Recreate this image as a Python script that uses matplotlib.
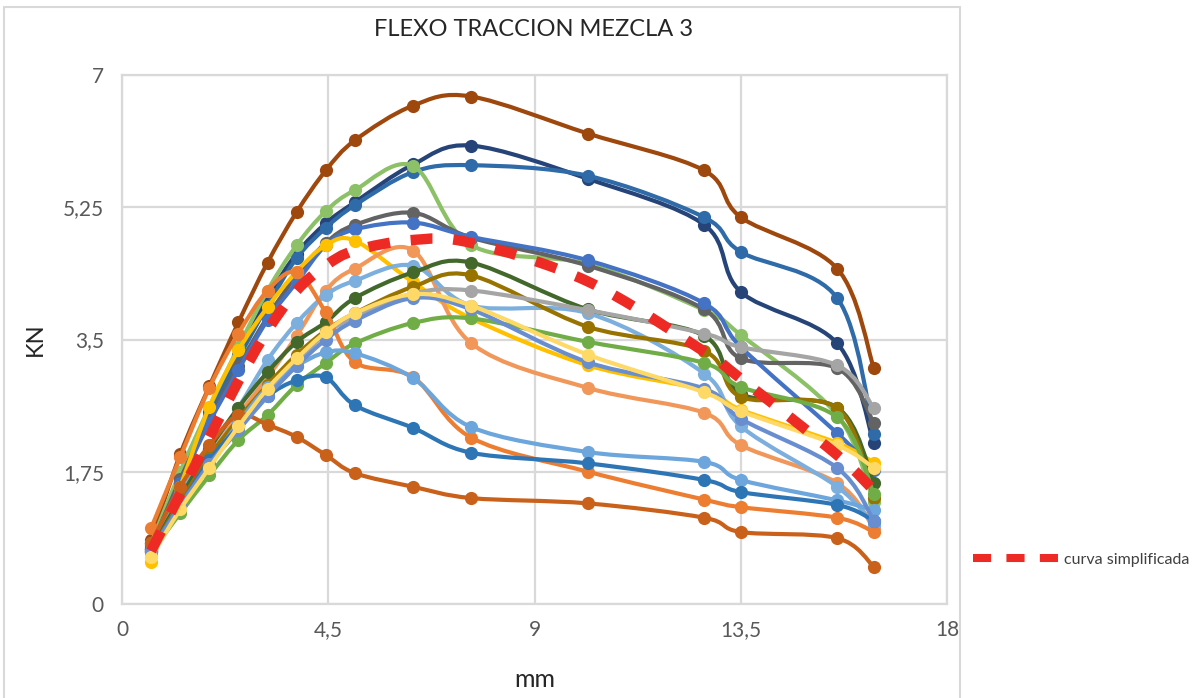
import matplotlib.pyplot as plt
from matplotlib.path import Path
from matplotlib.patches import PathPatch, Rectangle
from matplotlib.lines import Line2D
import numpy as np

plt.rcParams['font.family'] = ['Lato', 'DejaVu Sans']

# deflection readings (mm)
mm = [0.635, 1.27, 1.905, 2.54, 3.175, 3.81, 4.445, 5.08, 6.35, 7.62, 10.16, 12.7, 13.5, 15.6, 16.4]

# load per specimen (kN)
brown = [0.85, 1.98, 2.88, 3.73, 4.52, 5.19, 5.74, 6.14, 6.60, 6.72, 6.23, 5.74, 5.12, 4.44, 3.12]
navy = [0.80, 1.70, 2.55, 3.30, 4.05, 4.64, 5.04, 5.32, 5.82, 6.07, 5.63, 5.02, 4.13, 3.45, 2.13]
steel = [0.78, 1.68, 2.50, 3.25, 3.95, 4.58, 4.98, 5.28, 5.72, 5.81, 5.67, 5.12, 4.66, 4.05, 2.25]
lime = [0.80, 1.75, 2.60, 3.40, 4.15, 4.75, 5.20, 5.48, 5.80, 4.75, 4.50, 3.89, 3.56, 2.50, 1.35]
slate = [0.75, 1.65, 2.45, 3.15, 3.80, 4.35, 4.78, 5.02, 5.18, 4.85, 4.48, 3.90, 3.25, 3.12, 2.39]
blue = [0.72, 1.60, 2.40, 3.10, 3.76, 4.26, 4.75, 4.96, 5.05, 4.86, 4.55, 3.98, 3.40, 2.26, 1.77]
gold = [0.55, 1.55, 2.61, 3.36, 3.93, 4.40, 4.75, 4.81, 4.26, 3.78, 3.16, 2.83, 2.57, 2.13, 1.87]
peach = [0.70, 1.35, 1.95, 2.50, 3.00, 3.55, 4.15, 4.44, 4.68, 3.45, 2.86, 2.53, 2.10, 1.60, 1.00]
sky = [0.72, 1.45, 2.05, 2.60, 3.23, 3.72, 4.09, 4.28, 4.48, 3.95, 3.85, 3.05, 2.35, 1.55, 1.04]
forest = [0.72, 1.40, 2.05, 2.60, 3.07, 3.47, 3.73, 4.05, 4.39, 4.52, 3.90, 3.55, 2.78, 2.60, 1.60]
olive = [0.70, 1.35, 1.95, 2.45, 2.90, 3.30, 3.62, 3.85, 4.20, 4.35, 3.67, 3.35, 2.74, 2.59, 1.40]
gray = [0.68, 1.30, 1.85, 2.35, 2.80, 3.20, 3.58, 3.80, 4.11, 4.15, 3.89, 3.58, 3.40, 3.16, 2.59]
green = [0.68, 1.20, 1.70, 2.17, 2.50, 2.90, 3.19, 3.45, 3.72, 3.78, 3.47, 3.19, 2.87, 2.47, 1.45]
orange = [1.00, 1.94, 2.86, 3.58, 4.15, 4.39, 3.86, 3.20, 3.00, 2.20, 1.75, 1.38, 1.28, 1.14, 0.95]
pale = [0.70, 1.30, 1.85, 2.40, 2.87, 3.15, 3.33, 3.32, 2.99, 2.34, 2.01, 1.88, 1.64, 1.37, 1.24]
cobalt = [0.72, 1.30, 1.90, 2.35, 2.75, 2.96, 3.00, 2.63, 2.33, 2.00, 1.86, 1.64, 1.48, 1.31, 1.10]
rust = [0.80, 1.55, 2.10, 2.50, 2.37, 2.21, 1.97, 1.73, 1.55, 1.40, 1.33, 1.14, 0.95, 0.87, 0.49]
periwinkle = [0.70, 1.30, 1.85, 2.30, 2.75, 3.15, 3.50, 3.75, 4.05, 3.90, 3.20, 2.85, 2.45, 1.80, 1.10]
sand = [0.62, 1.25, 1.80, 2.35, 2.85, 3.25, 3.60, 3.85, 4.10, 3.95, 3.30, 2.80, 2.55, 2.10, 1.80]

# simplified design curve
simplificada = [0.70, 1.45, 2.20, 2.95, 3.62, 4.15, 4.48, 4.68, 4.82, 4.78, 4.27, 3.34, 2.98, 1.97, 1.50]

series = [
    (brown, '#9E480E'), (navy, '#264478'), (steel, '#2F6BA8'), (lime, '#8CC168'),
    (slate, '#636363'), (blue, '#4472C4'), (gold, '#FFC000'), (peach, '#F1975A'),
    (sky, '#7CAFDD'), (forest, '#43682B'), (olive, '#997300'), (gray, '#A5A5A5'),
    (green, '#70AD47'), (orange, '#ED7D31'), (pale, '#6CA6DC'), (cobalt, '#2E75B6'),
    (rust, '#C9611B'), (periwinkle, '#698ED0'), (sand, '#FFD966'),
]


def smooth_path(x, y):
    # cubic bezier through every point, tangents from the neighbours
    pts = np.column_stack([x, y])
    n = len(pts)
    verts = [pts[0]]
    codes = [Path.MOVETO]
    for i in range(n - 1):
        p0 = pts[i - 1] if i > 0 else pts[i]
        p1, p2 = pts[i], pts[i + 1]
        p3 = pts[i + 2] if i + 2 < n else pts[i + 1]
        verts += [p1 + (p2 - p0) / 6, p2 - (p3 - p1) / 6, p2]
        codes += [Path.CURVE4] * 3
    return Path(verts, codes)


fig = plt.figure(figsize=(11.96, 6.98), dpi=100)
ax = fig.add_axes([0.102, 0.135, 0.690, 0.757])

z = 2
for vals, col in series:
    ax.add_patch(PathPatch(smooth_path(mm, vals), facecolor='none', edgecolor=col,
                           lw=3.0, capstyle='round', joinstyle='round', zorder=z))
    ax.plot(mm, vals, linestyle='none', marker='o', markersize=9.5, color=col,
            markeredgewidth=0, zorder=z + 0.5)
    z += 1

ax.add_patch(PathPatch(smooth_path(mm, simplificada), facecolor='none', edgecolor='#EE2A24',
                       lw=7.5, linestyle=(0, (2.1, 2.0)), capstyle='butt', zorder=z + 1))

ax.set_xlim(0, 18)
ax.set_ylim(0, 7)
ax.set_xticks([0, 4.5, 9, 13.5, 18])
ax.set_xticklabels(['0', '4,5', '9', '13,5', '18'])
ax.set_yticks([0, 1.75, 3.5, 5.25, 7])
ax.set_yticklabels(['0', '1,75', '3,5', '5,25', '7'])
ax.tick_params(length=0, labelsize=15, labelcolor='#595959')
ax.tick_params(axis='y', pad=13)
ax.tick_params(axis='x', pad=12)
ax.grid(True, color='#D9D9D9', lw=1.6)
ax.set_axisbelow(True)
for sp in ax.spines.values():
    sp.set_color('#D9D9D9')
    sp.set_linewidth(1.6)

ax.set_xlabel('mm', fontsize=18, color='#262626', labelpad=20)
ax.set_ylabel('KN', fontsize=17, color='#262626', labelpad=12)
fig.text(0.446, 0.958, 'FLEXO TRACCION MEZCLA 3', ha='center', va='center',
         fontsize=17, color='#262626')

# outer chart frame
fig.add_artist(Rectangle((4 / 1196, -0.02), 956 / 1196, 1.01, transform=fig.transFigure,
                         fill=False, edgecolor='#D9D9D9', lw=1.5))

handle = Line2D([], [], color='#EE2A24', lw=5.8, linestyle=(0, (2.25, 1.9)),
                solid_capstyle='butt', dash_capstyle='butt', label='curva simplificada')
fig.legend(handles=[handle], loc='center left', bbox_to_anchor=(973 / 1196, 0.198),
           frameon=False, fontsize=11.5, handlelength=5.3, handletextpad=0.4,
           borderpad=0, borderaxespad=0, labelcolor='#404040')

fig.savefig('out.png', dpi=100)
